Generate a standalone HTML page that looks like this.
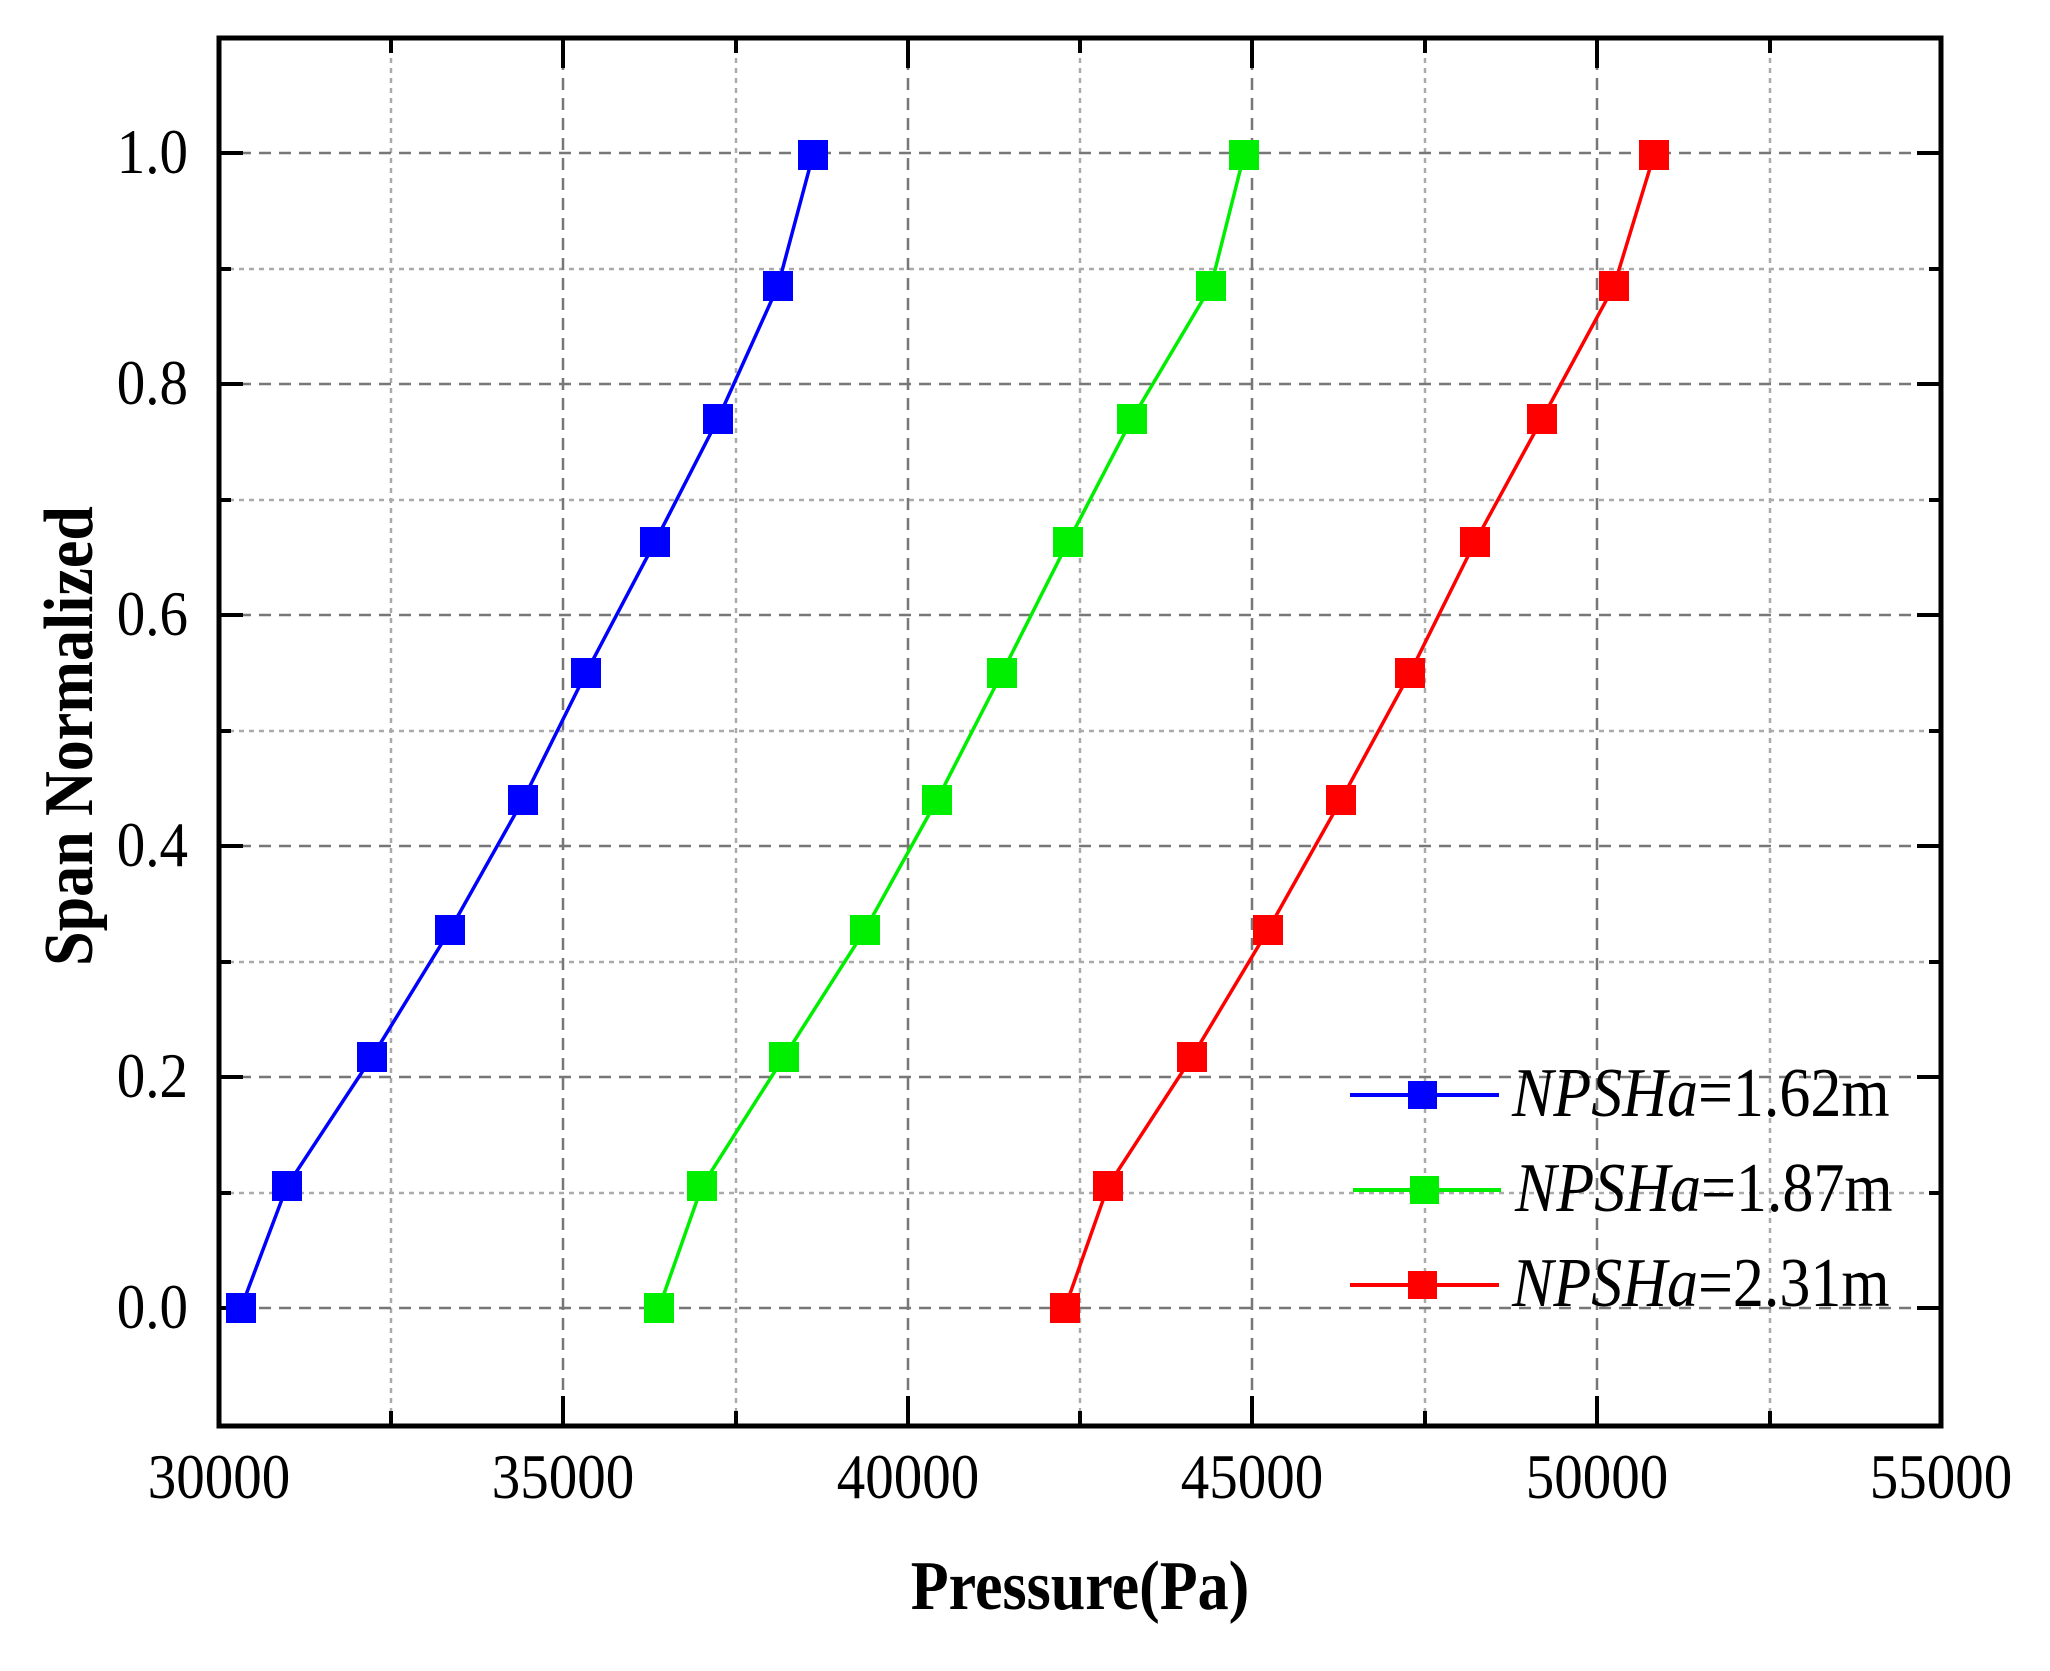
<!DOCTYPE html>
<html><head><meta charset="utf-8"><style>
html,body{margin:0;padding:0;background:#fff;}
svg{display:block;}
text{font-family:"Liberation Serif",serif;fill:#000;}
</style></head><body>
<svg width="2050" height="1671" viewBox="0 0 2050 1671" xmlns="http://www.w3.org/2000/svg">
<g stroke-width="2.5" fill="none">
<g stroke="#aaa" stroke-dasharray="5,5">
<line x1="391" y1="38" x2="391" y2="1426"/><line x1="736" y1="38" x2="736" y2="1426"/>
<line x1="1080" y1="38" x2="1080" y2="1426"/><line x1="1425" y1="38" x2="1425" y2="1426"/>
<line x1="1770" y1="38" x2="1770" y2="1426"/>
<line x1="219" y1="1193" x2="1941" y2="1193"/><line x1="219" y1="962" x2="1941" y2="962"/>
<line x1="219" y1="731" x2="1941" y2="731"/><line x1="219" y1="500" x2="1941" y2="500"/>
<line x1="219" y1="269" x2="1941" y2="269"/>
</g>
<g stroke="#777" stroke-dasharray="12,8">
<line x1="563" y1="38" x2="563" y2="1426"/><line x1="908" y1="38" x2="908" y2="1426"/>
<line x1="1252" y1="38" x2="1252" y2="1426"/><line x1="1597" y1="38" x2="1597" y2="1426"/>
<line x1="219" y1="1308" x2="1941" y2="1308"/><line x1="219" y1="1077" x2="1941" y2="1077"/>
<line x1="219" y1="846" x2="1941" y2="846"/><line x1="219" y1="615" x2="1941" y2="615"/>
<line x1="219" y1="384" x2="1941" y2="384"/><line x1="219" y1="153" x2="1941" y2="153"/>
</g>
</g>
<g stroke="#000" stroke-width="4">
<path d="M563 1426v-30M908 1426v-30M1252 1426v-30M1597 1426v-30M391 1426v-15M736 1426v-15M1080 1426v-15M1425 1426v-15M1770 1426v-15"/>
<path d="M563 38v30M908 38v30M1252 38v30M1597 38v30M391 38v15M736 38v15M1080 38v15M1425 38v15M1770 38v15"/>
<path d="M219 1308h24M219 1077h24M219 846h24M219 615h24M219 384h24M219 153h24M219 1193h12M219 962h12M219 731h12M219 500h12M219 269h12"/>
<path d="M1941 1308h-24M1941 1077h-24M1941 846h-24M1941 615h-24M1941 384h-24M1941 153h-24M1941 1193h-12M1941 962h-12M1941 731h-12M1941 500h-12M1941 269h-12"/>
</g>
<rect x="219" y="38" width="1722" height="1388" fill="none" stroke="#000" stroke-width="5"/>
<g fill="none" stroke-width="3.5">
<polyline stroke="#0000ff" points="241,1308 287,1186 372,1057 450,930 523,800 586,673 655,542 718,419 778,286 813,155"/>
<polyline stroke="#00ee00" points="659,1308 702,1186 784,1057 865,930 937,800 1002,673 1068,542 1132,419 1211,286 1244,155"/>
<polyline stroke="#ff0000" points="1065,1308 1108,1186 1192,1057 1268,930 1341,800 1410,673 1475,542 1542,419 1614,286 1654,155"/>
</g>
<g fill="#0000ff">
<rect x="226" y="1293" width="30" height="30"/><rect x="272" y="1171" width="30" height="30"/><rect x="357" y="1042" width="30" height="30"/><rect x="435" y="915" width="30" height="30"/><rect x="508" y="785" width="30" height="30"/><rect x="571" y="658" width="30" height="30"/><rect x="640" y="527" width="30" height="30"/><rect x="703" y="404" width="30" height="30"/><rect x="763" y="271" width="30" height="30"/><rect x="798" y="140" width="30" height="30"/>
</g>
<g fill="#00ee00">
<rect x="644" y="1293" width="30" height="30"/><rect x="687" y="1171" width="30" height="30"/><rect x="769" y="1042" width="30" height="30"/><rect x="850" y="915" width="30" height="30"/><rect x="922" y="785" width="30" height="30"/><rect x="987" y="658" width="30" height="30"/><rect x="1053" y="527" width="30" height="30"/><rect x="1117" y="404" width="30" height="30"/><rect x="1196" y="271" width="30" height="30"/><rect x="1229" y="140" width="30" height="30"/>
</g>
<g fill="#ff0000">
<rect x="1050" y="1293" width="30" height="30"/><rect x="1093" y="1171" width="30" height="30"/><rect x="1177" y="1042" width="30" height="30"/><rect x="1253" y="915" width="30" height="30"/><rect x="1326" y="785" width="30" height="30"/><rect x="1395" y="658" width="30" height="30"/><rect x="1460" y="527" width="30" height="30"/><rect x="1527" y="404" width="30" height="30"/><rect x="1599" y="271" width="30" height="30"/><rect x="1639" y="140" width="30" height="30"/>
</g>
<g stroke-width="4">
<line x1="1350" y1="1095" x2="1499" y2="1095" stroke="#0000ff"/>
<line x1="1353" y1="1190" x2="1501" y2="1190" stroke="#00ee00"/>
<line x1="1350" y1="1285" x2="1499" y2="1285" stroke="#ff0000"/>
</g>
<rect x="1408" y="1081" width="29" height="28" fill="#0000ff"/>
<rect x="1410" y="1176" width="29" height="28" fill="#00ee00"/>
<rect x="1408" y="1271" width="29" height="28" fill="#ff0000"/>
<g font-size="62">
<text transform="translate(1512,1116) scale(1,1.12)"><tspan font-style="italic">NPSHa</tspan>=1.62m</text>
<text transform="translate(1515,1211) scale(1,1.12)"><tspan font-style="italic">NPSHa</tspan>=1.87m</text>
<text transform="translate(1512,1306) scale(1,1.12)"><tspan font-style="italic">NPSHa</tspan>=2.31m</text>
</g>
<g font-size="57" text-anchor="end">
<text transform="translate(188,1328) scale(1,1.12)">0.0</text><text transform="translate(188,1097) scale(1,1.12)">0.2</text><text transform="translate(188,866) scale(1,1.12)">0.4</text>
<text transform="translate(188,635) scale(1,1.12)">0.6</text><text transform="translate(188,404) scale(1,1.12)">0.8</text><text transform="translate(188,173) scale(1,1.12)">1.0</text>
</g>
<g font-size="57" text-anchor="middle">
<text transform="translate(219,1498) scale(1,1.12)">30000</text><text transform="translate(563,1498) scale(1,1.12)">35000</text><text transform="translate(908,1498) scale(1,1.12)">40000</text>
<text transform="translate(1252,1498) scale(1,1.12)">45000</text><text transform="translate(1597,1498) scale(1,1.12)">50000</text><text transform="translate(1941,1498) scale(1,1.12)">55000</text>
</g>
<text transform="translate(1080,1609) scale(1,1.12)" font-size="62" font-weight="bold" text-anchor="middle">Pressure(Pa)</text>
<text transform="translate(92,736) rotate(-90) scale(1,1.12)" font-size="62" font-weight="bold" text-anchor="middle">Span Normalized</text>
</svg>
</body></html>
